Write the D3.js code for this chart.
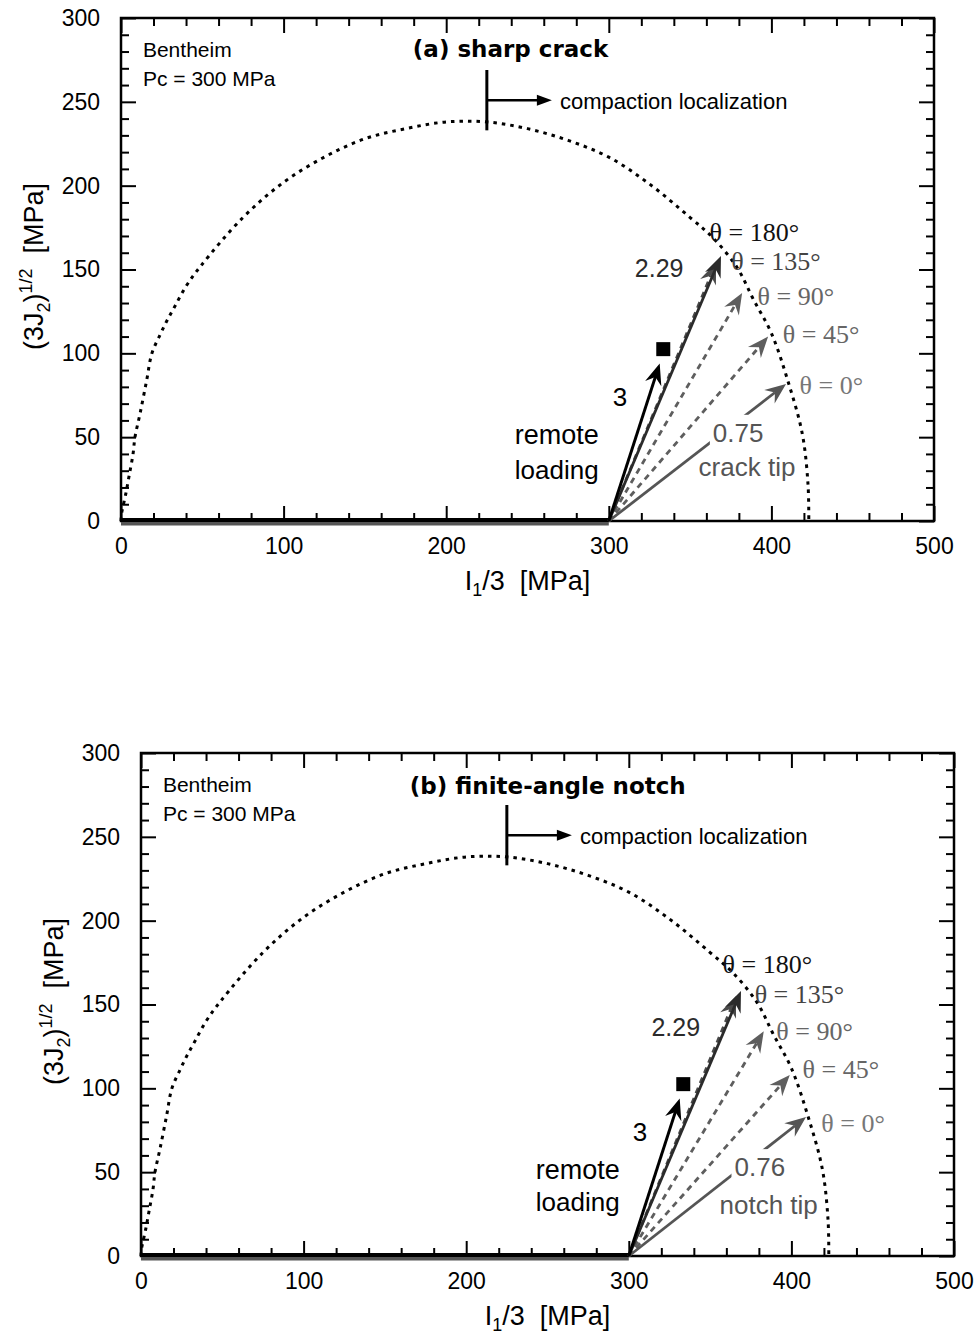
<!DOCTYPE html>
<html>
<head>
<meta charset="utf-8">
<script src="https://cdn.jsdelivr.net/npm/d3@7"></script>
<style>
  html, body { margin: 0; padding: 0; background: #fff; }
  svg { display: block; }
  text { white-space: pre; }
</style>
</head>
<body>
<svg id="fig" width="977" height="1336" font-family="'Liberation Sans', Arial, sans-serif"></svg>
<script>
// ---------- data ----------
const xMajor = [0, 100, 200, 300, 400, 500];
const yMajor = [0, 50, 100, 150, 200, 250, 300];

// yield cap of Bentheim sandstone: I1/3 vs sqrt(3 J2), MPa
const capP = [0, 0.4, 3, 5, 7.4, 8.6, 11.7, 15.8, 19, 24, 28, 32, 40, 49, 75, 100, 125, 150, 175, 200, 225, 250, 275, 300, 325, 350, 364, 379, 389, 400, 410, 419, 422.5, 423];
const capQ = [0, 4.6, 16.5, 27, 40, 50, 64, 84, 100, 111, 119, 126, 140, 152, 181, 202, 217, 228, 234, 238, 238, 234, 227, 217, 201, 181, 169, 151, 132, 112, 84, 52, 22, 0];

// hydrostatic path up to Pc
const hydroP = [0, 300];
const hydroQ = [0, 0];

// remote loading path (slope 3) and its end point marker
const remoteStart = [300, 0];
const remoteEnd = [331.3, 93.9];
const markerPt = [333.5, 102.5];

// near-tip stress paths, one per angle theta
const thetaNames = ["θ = 180°", "θ = 135°", "θ = 90°", "θ = 45°", "θ = 0°"];
const crackTipP = [369, 366, 382, 398, 409];
const crackTipQ = [158.0, 154, 136, 110, 81.75];
const notchTipP = [369, 366, 383, 399, 409];
const notchTipQ = [158.0, 155, 134, 108, 82.84];
const crackSlopes = ["2.29", "0.75"];
const notchSlopes = ["2.29", "0.76"];

// compaction localization onset
const compactionP = 225;
const compactionQ = [233, 269];
const compactionArrowP = [225, 265];
const compactionArrowQ = 251;

// ---------- styling ----------
const thetaStroke = ["#2b2b2b", "#4a4a4a", "#5e5e5e", "#5e5e5e", "#555"];
const thetaDash   = [null, "6,5", "6,5", "6,5", null];
const thetaText   = ["#111", "#444", "#666", "#666", "#777"];
const SANS = "'Liberation Sans', Arial, sans-serif";
const SERIF = "'Liberation Serif', 'Times New Roman', serif";

const panels = [
  {
    left: 121, top: 18, title: "(a) sharp crack", titleAt: [179.5, 276.6],
    tipP: crackTipP, tipQ: crackTipQ, slopes: crackSlopes, tipName: "crack tip",
    thetaAt: [[362, 172], [375.3, 155], [391.5, 134], [407, 111], [417.3, 81]],
    hiSlopeAt: [316, 151], loSlopeAt: [364, 52.6], tipNameAt: [385, 32.4],
    remoteAt: [268, 51, 30.5]
  },
  {
    left: 141, top: 753, title: "(b) finite-angle notch", titleAt: [165.3, 275.4],
    tipP: notchTipP, tipQ: notchTipQ, slopes: notchSlopes, tipName: "notch tip",
    thetaAt: [[357.7, 173.8], [377.4, 156], [390.7, 133.8], [406.9, 111], [418.4, 79]],
    hiSlopeAt: [313.9, 136.8], loSlopeAt: [365, 53], tipNameAt: [386, 30.5],
    remoteAt: [268.6, 51.4, 32]
  }
];
const plotW = 813, plotH = 503;

const svg = d3.select("#fig");

function arrowHead(g, x0, y0, x1, y1, color, dash, width) {
  const dx = x1 - x0, dy = y1 - y0, len = Math.hypot(dx, dy);
  const ux = dx / len, uy = dy / len, nx = -uy, ny = ux;
  const L = 21, W = 8.5, N = 7;
  const bx = x1 - ux * (L - N), by = y1 - uy * (L - N);
  g.append("line")
    .attr("x1", x0).attr("y1", y0).attr("x2", bx).attr("y2", by)
    .attr("stroke", color).attr("stroke-width", width)
    .attr("stroke-dasharray", dash);
  const pts = [[x1, y1], [x1 - ux * L + nx * W, y1 - uy * L + ny * W], [bx, by], [x1 - ux * L - nx * W, y1 - uy * L - ny * W]];
  g.append("polygon").attr("points", pts.map(p => p.join(",")).join(" ")).attr("fill", color);
}

panels.forEach(pn => {
  const x = d3.scaleLinear().domain([0, 500]).range([0, plotW]);
  const y = d3.scaleLinear().domain([0, 300]).range([plotH, 0]);
  const g = svg.append("g").attr("transform", `translate(${pn.left},${pn.top})`);

  const xMinor = d3.range(0, 501, 20).filter(v => v % 100 !== 0);
  const yMinor = d3.range(0, 301, 10).filter(v => v % 50 !== 0);

  // ticks on all four sides, pointing inward
  const axes = [
    [d3.axisBottom, x, `translate(0,${plotH})`, true],
    [d3.axisTop, x, "translate(0,0)", false],
    [d3.axisLeft, y, "translate(0,0)", true],
    [d3.axisRight, y, `translate(${plotW},0)`, false]
  ];
  axes.forEach(([fn, sc, tr, labelled]) => {
    const horiz = sc === x;
    const minorAx = fn(sc).tickValues(horiz ? xMinor : yMinor).tickSize(-8).tickFormat("");
    g.append("g").attr("transform", tr).call(minorAx)
      .call(a => a.select(".domain").remove())
      .call(a => a.selectAll("line").attr("stroke", "#000").attr("stroke-width", 2));
    const majorAx = fn(sc).tickValues(horiz ? xMajor : yMajor).tickSize(-15)
      .tickPadding(horiz ? 17 : 21).tickFormat(labelled ? d3.format("d") : "");
    const ag = g.append("g").attr("transform", tr).call(majorAx);
    ag.select(".domain").remove();
    ag.selectAll("line").attr("stroke", "#000").attr("stroke-width", 2);
    ag.selectAll("text").attr("font-family", SANS)
      .attr("font-size", 23).attr("fill", "#000");
  });

  // frame
  g.append("rect").attr("x", 0).attr("y", 0).attr("width", plotW).attr("height", plotH)
    .attr("fill", "none").attr("stroke", "#000").attr("stroke-width", 2.5);

  // yield cap
  const capLine = d3.line().x(d => x(d[0])).y(d => y(d[1])).curve(d3.curveCatmullRom.alpha(0.5));
  g.append("path").datum(capP.map((p, i) => [p, capQ[i]])).attr("d", capLine)
    .attr("fill", "none").attr("stroke", "#000").attr("stroke-width", 3)
    .attr("stroke-dasharray", "3.5,5");

  // hydrostatic loading along the axis
  g.append("line").attr("x1", x(hydroP[0])).attr("x2", x(hydroP[1]))
    .attr("y1", y(hydroQ[0])).attr("y2", y(hydroQ[1]))
    .attr("stroke", "#555").attr("stroke-width", 6).attr("transform", "translate(0,1.5)");
  g.append("line").attr("x1", x(hydroP[0])).attr("x2", x(hydroP[1]))
    .attr("y1", y(hydroQ[0])).attr("y2", y(hydroQ[1]))
    .attr("stroke", "#000").attr("stroke-width", 4).attr("transform", "translate(0,-1)");

  // near-tip paths: dashed ones first, solid on top
  const order = [1, 2, 3, 4, 0];
  order.forEach(i => {
    arrowHead(g, x(remoteStart[0]), y(remoteStart[1]), x(pn.tipP[i]), y(pn.tipQ[i]),
      thetaStroke[i], thetaDash[i], 2.8);
  });
  // remote loading path
  arrowHead(g, x(remoteStart[0]), y(remoteStart[1]), x(remoteEnd[0]), y(remoteEnd[1]), "#000", null, 3);

  // remote loading end marker
  g.append("rect").attr("x", x(markerPt[0]) - 7).attr("y", y(markerPt[1]) - 7)
    .attr("width", 14).attr("height", 14).attr("fill", "#000");

  // compaction localization marker
  g.append("line").attr("x1", x(compactionP)).attr("x2", x(compactionP))
    .attr("y1", y(compactionQ[0])).attr("y2", y(compactionQ[1]))
    .attr("stroke", "#000").attr("stroke-width", 3);
  const ax0 = x(compactionArrowP[0]), ax1 = x(compactionArrowP[1]), ay = y(compactionArrowQ);
  g.append("line").attr("x1", ax0).attr("x2", ax1 - 12).attr("y1", ay).attr("y2", ay)
    .attr("stroke", "#000").attr("stroke-width", 2.5);
  g.append("polygon").attr("points", `${ax1},${ay} ${ax1 - 15},${ay - 5.5} ${ax1 - 15},${ay + 5.5}`)
    .attr("fill", "#000");
  g.append("text").attr("x", x(270)).attr("y", y(245.5)).attr("font-size", 22)
    .text("compaction localization");

  // title and rock info
  g.append("text").attr("x", x(pn.titleAt[0])).attr("y", y(pn.titleAt[1]))
    .attr("font-family", "'DejaVu Sans', sans-serif").attr("font-weight", "bold")
    .attr("font-size", 23).text(pn.title);
  g.append("text").attr("x", x(13.5)).attr("y", y(276.6)).attr("font-size", 21).text("Bentheim");
  g.append("text").attr("x", x(13.5)).attr("y", y(259.3)).attr("font-size", 21).text("Pc = 300 MPa");

  // theta labels
  thetaNames.forEach((t, i) => {
    g.append("text").attr("x", x(pn.thetaAt[i][0])).attr("y", y(pn.thetaAt[i][1]))
      .attr("dominant-baseline", "central")
      .attr("font-family", SERIF)
      .attr("font-size", 26).attr("fill", thetaText[i]).text(t);
  });

  // slope labels
  g.append("text").attr("x", x(302.4)).attr("y", y(74)).attr("dominant-baseline", "central")
    .attr("font-size", 26).attr("fill", "#000").text("3");
  g.append("text").attr("x", x(pn.hiSlopeAt[0])).attr("y", y(pn.hiSlopeAt[1]))
    .attr("dominant-baseline", "central").attr("font-size", 25).attr("fill", "#2b2b2b").text(pn.slopes[0]);
  // the low-slope label sits on a white patch that interrupts its arrow
  const loBg = g.append("rect").attr("fill", "#fff");
  const lo = g.append("text").attr("x", x(pn.loSlopeAt[0])).attr("y", y(pn.loSlopeAt[1]))
    .attr("dominant-baseline", "central").attr("font-size", 26).attr("fill", "#555").text(pn.slopes[1]);
  const bb = lo.node().getBBox();
  loBg.attr("x", bb.x - 3).attr("y", bb.y - 3).attr("width", bb.width + 6).attr("height", bb.height + 2);
  g.append("text").attr("x", x(pn.tipNameAt[0])).attr("y", y(pn.tipNameAt[1]))
    .attr("dominant-baseline", "central").attr("text-anchor", "middle")
    .attr("font-size", 26).attr("fill", "#555").text(pn.tipName);
  g.append("text").attr("x", x(pn.remoteAt[0])).attr("y", y(pn.remoteAt[1]))
    .attr("dominant-baseline", "central").attr("text-anchor", "middle")
    .attr("font-size", 27).attr("fill", "#000").text("remote");
  g.append("text").attr("x", x(pn.remoteAt[0])).attr("y", y(pn.remoteAt[2]))
    .attr("dominant-baseline", "central").attr("text-anchor", "middle")
    .attr("font-size", 26).attr("fill", "#000").text("loading");

  // axis titles
  const xt = g.append("text").attr("x", plotW / 2).attr("y", plotH + 69)
    .attr("text-anchor", "middle").attr("font-size", 27);
  xt.append("tspan").text("I");
  xt.append("tspan").attr("dy", 6).attr("font-size", 18).text("1");
  xt.append("tspan").attr("dy", -6).text("/3  [MPa]");

  const yt = g.append("text").attr("transform", `translate(-78,${plotH / 2 - 3}) rotate(-90)`)
    .attr("text-anchor", "middle").attr("font-size", 27);
  yt.append("tspan").text("(3J");
  yt.append("tspan").attr("dy", 7).attr("font-size", 18).text("2");
  yt.append("tspan").attr("dy", -7).text(")");
  yt.append("tspan").attr("dy", -11).attr("font-size", 18).text("1/2");
  yt.append("tspan").attr("dy", 11).text("  [MPa]");
});
</script>
</body>
</html>
